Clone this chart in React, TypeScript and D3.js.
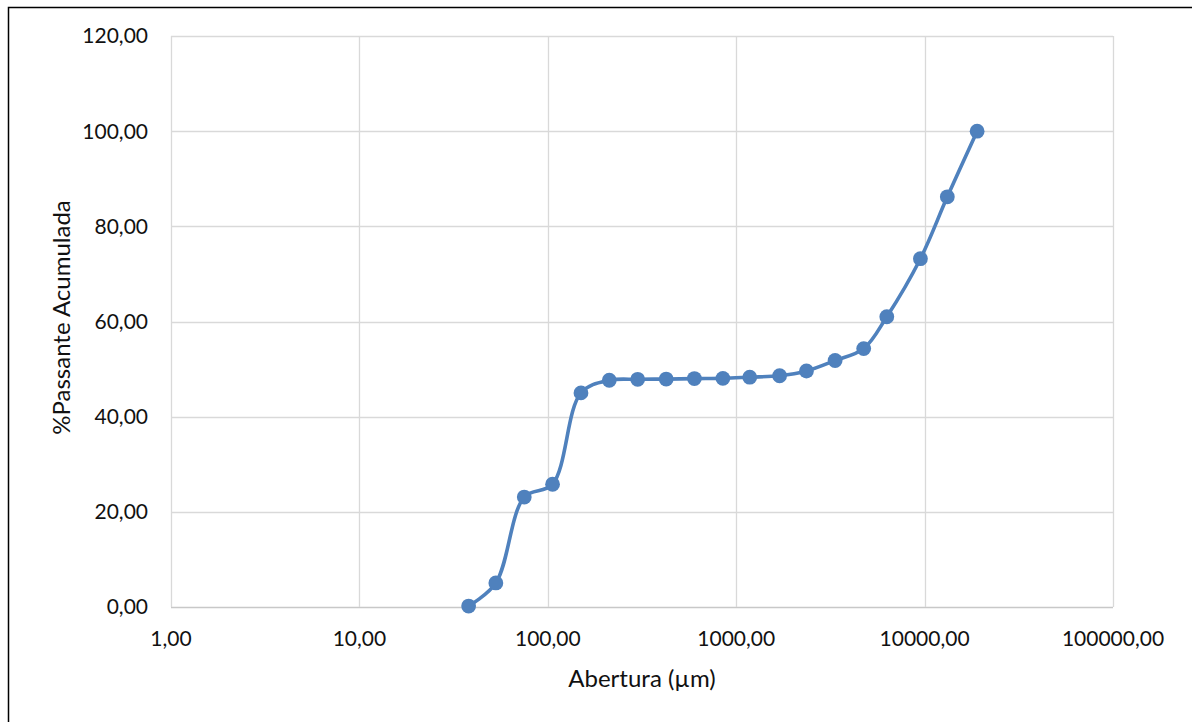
import React, { useEffect, useRef } from "react";
import * as d3 from "d3";

// abertura das peneiras (µm) e % passante acumulada
const aberturas = [
  38, 53, 75, 106, 150, 212, 300, 425, 600, 850, 1180, 1700, 2360, 3350, 4750,
  6300, 9500, 13200, 19000,
];
const passante = [
  0.2, 5.05, 23.1, 25.8, 45.0, 47.65, 47.85, 47.9, 48.0, 48.05, 48.3, 48.6,
  49.6, 51.8, 54.3, 61.0, 73.2, 86.2, 100.0,
];
const xTicks = [1, 10, 100, 1000, 10000, 100000];
const yTicks = [0, 20, 40, 60, 80, 100, 120];

const fmt = (v: number) => v.toFixed(2).replace(".", ",");

const App = () => {
  const svgRef = useRef<SVGSVGElement | null>(null);

  useEffect(() => {
    const width = 1192;
    const height = 722;
    const margin = { left: 171, right: 1113, top: 36, bottom: 607 };
    const font = "Lato, 'Open Sans', sans-serif";

    const svg = d3.select(svgRef.current);
    svg.selectAll("*").remove();
    svg.attr("width", width).attr("height", height);

    svg
      .append("rect")
      .attr("width", width)
      .attr("height", height)
      .attr("fill", "white");

    // moldura
    svg
      .append("rect")
      .attr("x", 8.5)
      .attr("y", 7.5)
      .attr("width", width)
      .attr("height", height)
      .attr("fill", "none")
      .attr("stroke", "black")
      .attr("stroke-width", 1.5);

    const x = d3.scaleLog().domain([1, 100000]).range([margin.left, margin.right]);
    const y = d3.scaleLinear().domain([0, 120]).range([margin.bottom, margin.top]);

    const grid = svg.append("g");
    grid
      .selectAll("line.h")
      .data(yTicks)
      .enter()
      .append("line")
      .attr("x1", margin.left)
      .attr("x2", margin.right)
      .attr("y1", (d) => Math.round(y(d)) + 0.5)
      .attr("y2", (d) => Math.round(y(d)) + 0.5)
      .attr("stroke", (d) => (d === 0 ? "#c8c8c8" : "#d9d9d9"))
      .attr("stroke-width", 1.3);
    grid
      .selectAll("line.v")
      .data(xTicks)
      .enter()
      .append("line")
      .attr("y1", margin.top)
      .attr("y2", margin.bottom)
      .attr("x1", (d) => Math.round(x(d)) + 0.5)
      .attr("x2", (d) => Math.round(x(d)) + 0.5)
      .attr("stroke", "#d9d9d9")
      .attr("stroke-width", 1.3);

    // rótulos do eixo y
    svg
      .append("g")
      .selectAll("text")
      .data(yTicks)
      .enter()
      .append("text")
      .attr("x", 148)
      .attr("y", (d) => y(d))
      .attr("dy", "0.35em")
      .attr("text-anchor", "end")
      .attr("font-family", font)
      .attr("font-size", 21)
      .attr("fill", "#111")
      .text((d) => fmt(d));

    // rótulos do eixo x
    svg
      .append("g")
      .selectAll("text")
      .data(xTicks)
      .enter()
      .append("text")
      .attr("x", (d) => x(d))
      .attr("y", 639)
      .attr("dy", "0.35em")
      .attr("text-anchor", "middle")
      .attr("font-family", font)
      .attr("font-size", 21)
      .attr("fill", "#111")
      .text((d) => fmt(d));

    svg
      .append("text")
      .attr("x", (margin.left + margin.right) / 2)
      .attr("y", 679)
      .attr("dy", "0.35em")
      .attr("text-anchor", "middle")
      .attr("font-family", font)
      .attr("font-size", 24)
      .attr("fill", "#111")
      .text("Abertura (µm)");

    svg
      .append("text")
      .attr("transform", `translate(62, ${(margin.top + margin.bottom) / 2 - 4}) rotate(-90)`)
      .attr("dy", "0.35em")
      .attr("text-anchor", "middle")
      .attr("font-family", font)
      .attr("font-size", 24)
      .attr("fill", "#111")
      .text("%Passante Acumulada");

    const pts: [number, number][] = aberturas.map((a, i) => [x(a), y(passante[i])]);

    const line = d3.line().curve(d3.curveCatmullRom.alpha(0.5));

    svg
      .append("path")
      .attr("d", line(pts))
      .attr("fill", "none")
      .attr("stroke", "#4f81bd")
      .attr("stroke-width", 3.6)
      .attr("stroke-linejoin", "round");

    svg
      .append("g")
      .selectAll("circle")
      .data(pts)
      .enter()
      .append("circle")
      .attr("cx", (d) => d[0])
      .attr("cy", (d) => d[1])
      .attr("r", 7.4)
      .attr("fill", "#4f81bd");
  }, []);

  return (
    <svg
      ref={svgRef}
      style={{ position: "absolute", left: 0, top: 0, display: "block" }}
    />
  );
};

export default App;
